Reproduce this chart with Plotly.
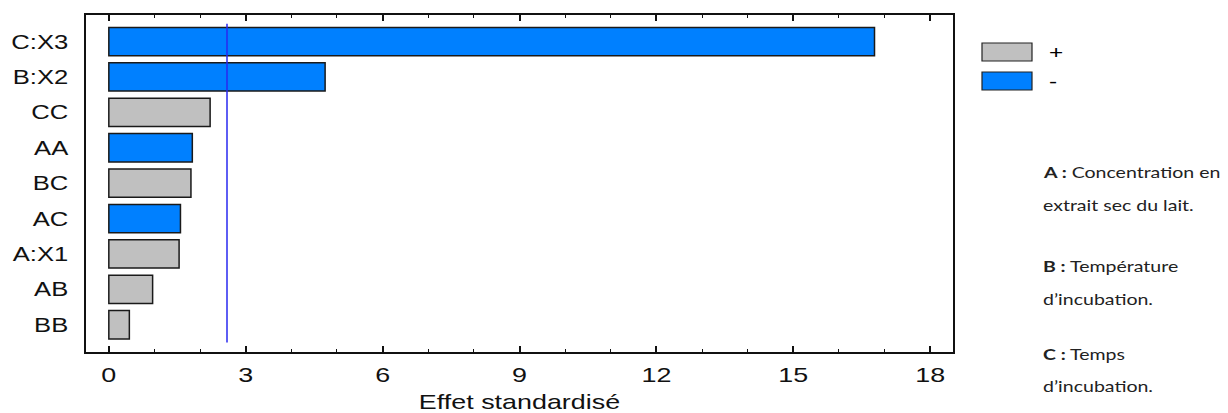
import plotly.graph_objects as go

# ---- data (bottom to top) ----
effects = ["BB", "AB", "A:X1", "AC", "BC", "AA", "CC", "B:X2", "C:X3"]
std_effect = [0.45, 0.96, 1.54, 1.57, 1.80, 1.83, 2.22, 4.74, 16.78]
signs = ["+", "+", "+", "-", "+", "-", "+", "-", "-"]
t_crit = 2.59
x_ticks = [0, 3, 6, 9, 12, 15, 18]
x_title = "Effet standardisé"
legend_labels = ["+", "-"]
notes = [
    "<b>A :</b> Concentration en",
    "extrait sec du lait.",
    "<b>B :</b> Température",
    "d’incubation.",
    "<b>C :</b> Temps",
    "d’incubation.",
]

GREY = "#C0C0C0"
BLUE = "#0080FF"
colors = {"+": GREY, "-": BLUE}

W, H = 1228, 413
ML, MR, MT, MB = 86, W - 953, 15, H - 352
PW, PH = W - ML - MR, H - MT - MB


def px(x):
    return (x - ML) / PW


def py(y):
    return (H - MB - y) / PH


fig = go.Figure()
for s in legend_labels:
    xs = [v if sg == s else None for v, sg in zip(std_effect, signs)]
    fig.add_trace(go.Bar(
        x=xs, y=effects, orientation="h", name=s,
        marker=dict(color=colors[s], line=dict(color="#1a1a1a", width=1.5)),
        width=0.8, showlegend=False,
    ))

fig.add_shape(type="line", xref="x", yref="y", x0=t_crit, x1=t_crit, y0=-0.5, y1=8.5,
              line=dict(color="#2828F0", width=1.5))

# legend swatches
for i, s in enumerate(legend_labels):
    y0 = 43 + i * 29
    fig.add_shape(type="rect", xref="paper", yref="paper",
                  x0=px(982), x1=px(1032), y0=py(y0 + 18), y1=py(y0),
                  fillcolor=colors[s], line=dict(color="#222", width=1.2))
    fig.add_annotation(xref="paper", yref="paper", x=px(1047), y=py(y0 + 9),
                       text=s, showarrow=False, xanchor="left", yanchor="middle", align="left",
                       font=dict(family="Liberation Sans, Arial", size=19, color="black"))

note_y = [171, 205, 265, 298, 353, 385]
for t, yy in zip(notes, note_y):
    fig.add_annotation(xref="paper", yref="paper", x=px(1041), y=py(yy),
                       text=t, showarrow=False, xanchor="left", yanchor="middle", align="left",
                       font=dict(family="Lato, Open Sans, sans-serif", size=16, color="#222"))

fig.update_layout(
    width=W, height=H,
    margin=dict(l=ML, r=MR, t=MT, b=MB, pad=0, autoexpand=False),
    paper_bgcolor="white", plot_bgcolor="white",
    barmode="overlay",
    font=dict(family="Liberation Sans, Arial", size=20, color="#111"),
    xaxis=dict(
        automargin=False,
        range=[-0.5, 18.5], tickvals=x_ticks, ticks="inside", ticklen=6, tickwidth=1.5,
        tickcolor="#111", showline=True, linecolor="#111", linewidth=1.5, mirror="ticks",
        showgrid=False, zeroline=False,
        minor=dict(ticks="inside", ticklen=3, dtick=1, tickwidth=1.2, tickcolor="#111", showgrid=False),
        tickfont=dict(size=21), ticklabelstandoff=3,
        title=dict(text=x_title, font=dict(size=21), standoff=10),
    ),
    yaxis=dict(
        automargin=False,
        type="category", categoryorder="array", categoryarray=effects,
        range=[-0.77, 8.75], showline=True, linecolor="#111", linewidth=1.5, mirror=True,
        ticks="", showgrid=False, zeroline=False, tickfont=dict(size=20),
        ticklabelstandoff=12,
    ),
)

# The reference text is horizontally wider than the installed fonts; widen glyphs in place.
post = """
(function(){
  var gd = document.getElementById('{plot_id}');
  var texts = gd.querySelectorAll('svg text');
  texts.forEach(function(t){
    var ff = (t.style.fontFamily || '');
    var f = ff.indexOf('Lato') >= 0 ? 1.22 : 1.28;
    var L = t.getComputedTextLength();
    if (L > 0) {
      t.setAttribute('textLength', (L * f).toFixed(2));
      t.setAttribute('lengthAdjust', 'spacingAndGlyphs');
    }
  });
})();
"""

fig.write_html("out.html", post_script=post)
